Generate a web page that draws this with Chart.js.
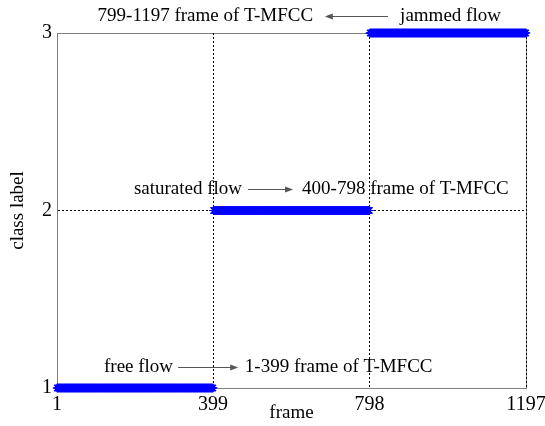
<!DOCTYPE html>
<html>
<head>
<meta charset="utf-8">
<script src="https://cdn.jsdelivr.net/npm/chart.js@4"></script>
<style>
  html, body { margin: 0; padding: 0; background: #fff; }
  #wrap { width: 545px; height: 426px; }
</style>
</head>
<body>
<div id="wrap"><canvas id="c" width="545" height="426"></canvas></div>
<script>
// Axis ticks
const xTicks = [1, 399, 798, 1197];
const yTicks = [1, 2, 3];

// Class label of each frame segment
const segmentStart = [1, 400, 799];
const segmentEnd = [399, 798, 1197];
const segmentClass = [1, 2, 3];

// Annotation texts
const flowNames = ['free flow', 'saturated flow', 'jammed flow'];
const frameRanges = ['1-399 frame of T-MFCC', '400-798 frame of T-MFCC', '799-1197 frame of T-MFCC'];

// One point per frame, carrying that frame's class label
const points = [];
segmentStart.forEach((s, i) => {
  for (let f = s; f <= segmentEnd[i]; f++) points.push({ x: f, y: segmentClass[i] });
});

const FONT = 'Liberation Serif';

// Placement of the annotation rows, in data units
const notes = [
  { left: flowNames[0], right: frameRanges[0], y: 1.118, leftEnd: 297, from: 310, to: 463, rightStart: 480 },
  { left: flowNames[1], right: frameRanges[1], y: 2.121, leftEnd: 473, from: 488, to: 603, rightStart: 626 },
  { left: frameRanges[2], right: flowNames[2], y: 3.096, leftEnd: 654, from: 845, to: 684, rightStart: 876 }
];

const frameBox = {
  id: 'frameBox',
  beforeDraw(chart) {
    const { ctx, chartArea: a } = chart;
    ctx.save();
    ctx.strokeStyle = '#808080';
    ctx.lineWidth = 1;
    ctx.strokeRect(Math.round(a.left) + 0.5, Math.round(a.top) + 0.5,
                   Math.round(a.right - a.left), Math.round(a.bottom - a.top));
    ctx.restore();
  }
};

const annotations = {
  id: 'annotations',
  afterDraw(chart) {
    const { ctx, scales: { x, y } } = chart;
    ctx.save();
    ctx.font = '19px "' + FONT + '"';
    ctx.fillStyle = '#000';
    ctx.textBaseline = 'middle';
    notes.forEach(n => {
      const py = Math.round(y.getPixelForValue(n.y)) + 0.5;
      ctx.textAlign = 'right';
      ctx.fillText(n.left, x.getPixelForValue(n.leftEnd), py);
      ctx.textAlign = 'left';
      ctx.fillText(n.right, x.getPixelForValue(n.rightStart), py);
      const x0 = x.getPixelForValue(n.from);
      const x1 = x.getPixelForValue(n.to);
      const dir = Math.sign(x1 - x0);
      ctx.strokeStyle = '#555';
      ctx.fillStyle = '#555';
      ctx.lineWidth = 1;
      ctx.beginPath();
      ctx.moveTo(x0, py);
      ctx.lineTo(x1 - dir * 5, py);
      ctx.stroke();
      ctx.beginPath();
      ctx.moveTo(x1, py);
      ctx.lineTo(x1 - dir * 8, py - 3);
      ctx.lineTo(x1 - dir * 8, py + 3);
      ctx.closePath();
      ctx.fill();
      ctx.fillStyle = '#000';
    });
    ctx.restore();
  }
};

const gridColor = (edges) => (c) => (c.tick && edges.includes(c.tick.value)) ? 'rgba(0,0,0,0)' : '#000';

new Chart(document.getElementById('c'), {
  type: 'scatter',
  data: {
    datasets: [{
      data: points,
      showLine: false,
      pointStyle: 'star',
      pointRadius: 4.3,
      pointBorderWidth: 1.1,
      borderColor: '#0000ff',
      backgroundColor: '#0000ff',
      clip: false
    }]
  },
  options: {
    responsive: false,
    devicePixelRatio: 1,
    animation: false,
    layout: { padding: { top: 33, right: 19, left: 0, bottom: 0 } },
    plugins: { legend: { display: false }, tooltip: { enabled: false } },
    scales: {
      x: {
        type: 'linear',
        min: 1, max: 1197,
        afterBuildTicks: s => { s.ticks = xTicks.map(v => ({ value: v })); },
        afterFit: s => { s.height = 38; s.paddingRight = 0; s.paddingLeft = 0; },
        ticks: { font: { family: FONT, size: 20 }, color: '#000', padding: 5, maxRotation: 0, minRotation: 0, autoSkip: false,
                 callback: v => String(v) },
        grid: { drawTicks: false, color: gridColor([1]), lineWidth: 1 },
        border: { display: true, color: '#808080', dash: [2, 2] },
        title: { display: true, text: 'frame', font: { family: FONT, size: 19 }, color: '#000', padding: { top: 2, bottom: 2 } }
      },
      y: {
        type: 'linear',
        min: 1, max: 3,
        afterBuildTicks: s => { s.ticks = yTicks.map(v => ({ value: v })); },
        afterFit: s => { s.width = 57; s.paddingTop = 0; s.paddingBottom = 0; },
        ticks: { font: { family: FONT, size: 20 }, color: '#000', padding: 5, callback: v => String(v) },
        grid: { drawTicks: false, color: gridColor([1, 3]), lineWidth: 1 },
        border: { display: true, color: '#808080', dash: [2, 2] },
        title: { display: true, text: 'class label', font: { family: FONT, size: 19 }, color: '#000', padding: { top: 7, bottom: 7 } }
      }
    }
  },
  plugins: [frameBox, annotations]
});
</script>
</body>
</html>
